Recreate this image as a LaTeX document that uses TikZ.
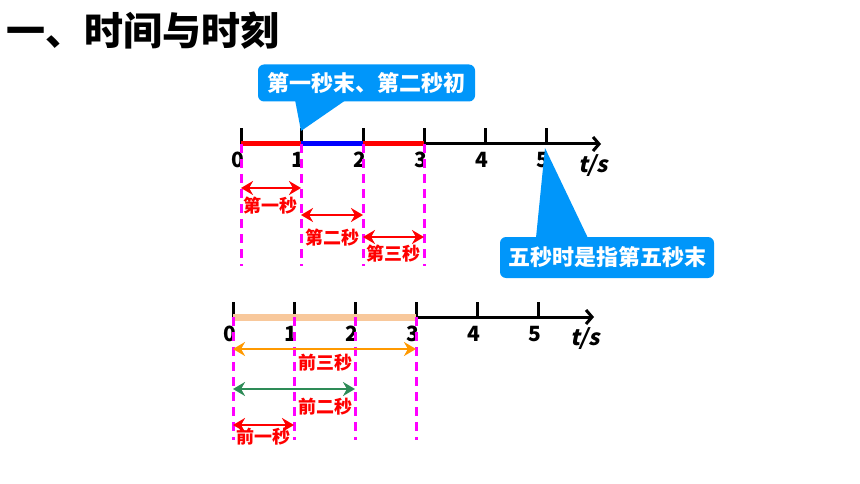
\documentclass[tikz,border=0pt]{standalone}
\usepackage{fontspec}
\setmainfont{Noto Sans CJK SC}
\newfontfamily\unitfont{Noto Sans CJK SC}[UprightFeatures={FakeSlant=0.22},BoldFeatures={FakeSlant=0.22}]
\usetikzlibrary{arrows.meta,positioning,calc}
\definecolor{callblue}{RGB}{0,150,250}
\definecolor{peach}{RGB}{248,200,155}
\definecolor{arrorange}{RGB}{255,153,0}
\definecolor{arrgreen}{RGB}{46,139,87}
\definecolor{guidepink}{RGB}{255,0,255}
\definecolor{segred}{RGB}{255,0,0}
\definecolor{segblue}{RGB}{0,0,255}

\begin{document}
\begin{tikzpicture}[x=1pt,y=-1pt,font=\bfseries,
    axis/.style={line width=3pt,-{Straight Barb[length=6pt,width=14pt]}},
    axtick/.style={line width=3pt},
    seg/.style={line width=5pt},
    guide/.style={guidepink,line width=3pt,dash pattern=on 9pt off 6pt},
    span/.style={line width=2.8pt,{Stealth[length=12pt,width=14pt]}-{Stealth[length=12pt,width=14pt]}},
    num/.style={inner sep=0pt,font=\bfseries\fontsize{21}{21}\selectfont},
    unit/.style={inner sep=0pt,font=\unitfont\bfseries\fontsize{22}{22}\selectfont},
    lbl/.style={inner sep=0pt,segred,font=\bfseries\fontsize{18}{18}\selectfont},
    callout/.style={fill=callblue,text=white,rounded corners=6pt,inner sep=0pt,font=\bfseries\fontsize{22}{22}\selectfont}]
  \useasboundingbox (0,0) rectangle (860,484);

  \node[anchor=west,inner sep=0pt,font=\bfseries\fontsize{39}{39}\selectfont] (title) at (6,31) {一、时间与时刻};

  % upper axis
  \foreach \i/\x in {0/241,1/301,2/363,3/424,4/485,5/546}{
    \coordinate (a\i) at (\x,144);
    \coordinate (da\i) at (\x,266);
    \draw[axtick] (a\i) -- ++(0,-16);
    \node[num] (na\i) at (\x-3,160) {\i};
  }
  \coordinate (ea) at (601,144);
  \draw[axis] (a0) -- (ea);
  \node[unit] (ua) at (593,166) {t/s};
  \draw[seg,segred] (a0) -- (a1);
  \draw[seg,segblue] (a1) -- (a2);
  \draw[seg,segred] (a2) -- (a3);
  \foreach \i in {0,...,3} \draw[guide] (a\i) -- (da\i);

  \coordinate (s0) at (241,188); \coordinate (s1) at (301,188);
  \coordinate (s2) at (301,215); \coordinate (s3) at (363,215);
  \coordinate (s4) at (363,237); \coordinate (s5) at (424,237);
  \draw[span,segred] (s0) -- (s1);
  \draw[span,segred] (s2) -- (s3);
  \draw[span,segred] (s4) -- (s5);
  \node[lbl] (l1) at (270,206) {第一秒};
  \node[lbl] (l2) at (332,238) {第二秒};
  \node[lbl] (l3) at (393,254) {第三秒};

  % callouts
  \node[callout,minimum width=217pt,minimum height=37pt] (c1) at (366.5,83) {第一秒末、第二秒初};
  \coordinate (t1) at (301,131);
  \fill[callblue] ($(c1.south west)+(37,-3)$) -- (t1) -- ($(c1.south west)+(90,-3)$) -- cycle;
  \node[callout,minimum width=214pt,minimum height=41pt] (c2) at (607,257.5) {五秒时是指第五秒末};
  \coordinate (t2) at (545,148);
  \fill[callblue] ($(c2.north west)+(36,3)$) -- (t2) -- ($(c2.north west)+(89,3)$) -- cycle;

  % lower axis
  \foreach \i/\x in {0/233,1/294,2/355,3/416,4/477,5/538}{
    \coordinate (b\i) at (\x,317);
    \coordinate (db\i) at (\x,440);
    \draw[axtick] (b\i) -- ++(0,-15);
    \node[num] (nb\i) at (\x-3,334) {\i};
  }
  \coordinate (eb) at (594,317);
  \draw[axis] (b0) -- (eb);
  \node[unit] (ub) at (585,339) {t/s};
  \draw[line width=7pt,peach] (b0) -- (b3);
  \foreach \i in {0,...,3} \draw[guide] (b\i) -- (db\i);

  \coordinate (r0) at (233,349); \coordinate (r1) at (416,349);
  \coordinate (r2) at (233,389); \coordinate (r3) at (355,389);
  \coordinate (r4) at (233,425); \coordinate (r5) at (294,425);
  \draw[span,arrorange] (r0) -- (r1);
  \draw[span,arrgreen] (r2) -- (r3);
  \draw[span,segred] (r4) -- (r5);
  \node[lbl] (m3) at (325,363) {前三秒};
  \node[lbl] (m2) at (325,407) {前二秒};
  \node[lbl] (m1) at (263,437) {前一秒};
\end{tikzpicture}
\end{document}
